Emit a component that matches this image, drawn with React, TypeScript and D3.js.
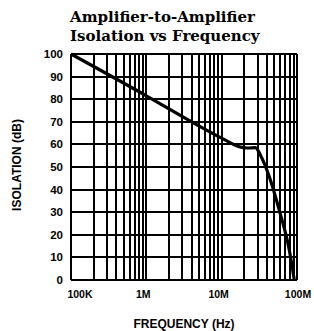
import React, { useRef, useEffect } from 'react';
import * as d3 from 'd3';

// curve (Hz, dB)
const freqs = [1e5, 1e6, 4e6, 1e7, 1.8e7, 2.2e7, 2.8e7, 3.3e7, 4.3e7, 5.8e7, 7.9e7, 9.2e7];
const isolation = [100, 81.5, 70, 62.8, 58.8, 58.4, 58.6, 55, 45.6, 31, 13.3, 0];
const yTicks = [0, 10, 20, 30, 40, 50, 60, 70, 80, 90, 100];
const xTicks = [1e5, 1e6, 1e7, 1e8];
const xTickLabels = ['100K', '1M', '10M', '100M'];
const titleLines = ['Amplifier-to-Amplifier', 'Isolation vs Frequency'];

const W = 314;
const H = 331;

const App = () => {
  const svgRef = useRef<SVGSVGElement>(null);

  useEffect(() => {
    const svg = d3.select(svgRef.current);
    svg.selectAll('*').remove();

    const margin = { top: 54, right: 17, bottom: 51, left: 71 };
    const x = d3.scaleLog().domain([1e5, 1e8]).range([margin.left, W - margin.right]);
    const y = d3.scaleLinear().domain([0, 100]).range([H - margin.bottom, margin.top]);

    // minor + major vertical grid (1..9 per decade)
    const vLines: number[] = [];
    for (let p = 5; p < 8; p++) {
      for (let m = 1; m < 10; m++) vLines.push(m * Math.pow(10, p));
    }
    vLines.push(1e8);

    const grid = svg.append('g').attr('stroke', '#000').attr('shape-rendering', 'crispEdges');
    grid.selectAll('.v')
      .data(vLines)
      .enter()
      .append('line')
      .attr('x1', d => Math.round(x(d)))
      .attr('x2', d => Math.round(x(d)))
      .attr('y1', y(100))
      .attr('y2', y(0))
      .attr('stroke-width', 1.3);

    grid.selectAll('.h')
      .data(yTicks)
      .enter()
      .append('line')
      .attr('x1', x(1e5))
      .attr('x2', x(1e8))
      .attr('y1', d => Math.round(y(d)))
      .attr('y2', d => Math.round(y(d)))
      .attr('stroke-width', 1.5);

    // the curve
    const pts = freqs.map((f, i) => [f, isolation[i]] as [number, number]);
    const line = d3.line<[number, number]>()
      .x(d => x(d[0]))
      .y(d => y(d[1]))
      .curve(d3.curveMonotoneX);
    svg.append('path')
      .datum(pts)
      .attr('d', line)
      .attr('fill', 'none')
      .attr('stroke', '#000')
      .attr('stroke-width', 3.2)
      .attr('stroke-linejoin', 'round');

    // Y axis labels
    svg.append('g')
      .selectAll('text')
      .data(yTicks)
      .enter()
      .append('text')
      .attr('x', 63)
      .attr('y', d => y(d) + 4)
      .attr('text-anchor', 'end')
      .style('font-family', '"Liberation Sans", Arial, sans-serif')
      .style('font-weight', 'bold')
      .style('font-size', '11.5px')
      .text(d => d);

    // X axis labels
    svg.append('g')
      .selectAll('text')
      .data(xTicks)
      .enter()
      .append('text')
      .attr('x', (d, i) => x(d) + (i === 0 ? 9 : i === 3 ? 1 : -3))
      .attr('y', 298)
      .attr('text-anchor', 'middle')
      .style('font-family', '"Liberation Sans", Arial, sans-serif')
      .style('font-weight', 'bold')
      .style('font-size', '10.5px')
      .text((d, i) => xTickLabels[i]);

    // axis titles
    svg.append('text')
      .attr('x', 184)
      .attr('y', 328)
      .attr('text-anchor', 'middle')
      .style('font-family', '"Liberation Sans", Arial, sans-serif')
      .style('font-weight', 'bold')
      .style('font-size', '12px')
      .text('FREQUENCY (Hz)');

    svg.append('text')
      .attr('transform', 'translate(21, 165) rotate(-90)')
      .attr('text-anchor', 'middle')
      .style('font-family', '"Liberation Sans", Arial, sans-serif')
      .style('font-weight', 'bold')
      .style('font-size', '12px')
      .text('ISOLATION (dB)');

    // chart title
    svg.append('g')
      .selectAll('text')
      .data(titleLines)
      .enter()
      .append('text')
      .attr('x', 70)
      .attr('y', (d, i) => 22 + i * 19)
      .style('font-family', '"DejaVu Serif", serif')
      .style('font-weight', 'bold')
      .style('font-size', '15px')
      .text(d => d);
  }, []);

  return (
    <svg
      ref={svgRef}
      width={W}
      height={H}
      style={{ position: 'absolute', left: 0, top: 0, background: '#fff' }}
    />
  );
};

export default App;
